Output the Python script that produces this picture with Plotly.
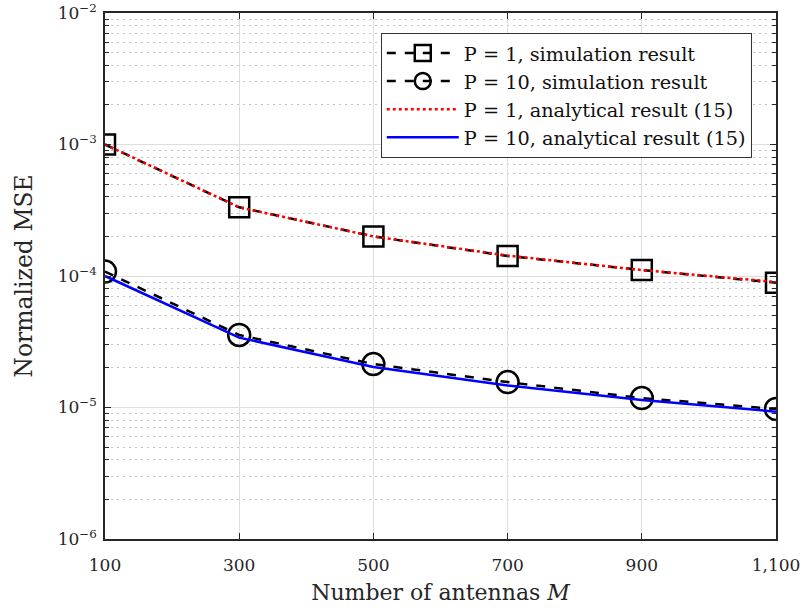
import plotly.graph_objects as go

M = [100, 300, 500, 700, 900, 1100]
sim_p1 = [1.0e-3, 3.33e-4, 2.0e-4, 1.42e-4, 1.11e-4, 8.9e-5]
sim_p10 = [1.08e-4, 3.56e-5, 2.14e-5, 1.56e-5, 1.18e-5, 9.75e-6]
ana_p1 = [1.0e-3, 3.33e-4, 2.0e-4, 1.43e-4, 1.11e-4, 9.0e-5]
ana_p10 = [1.0e-4, 3.4e-5, 2.03e-5, 1.47e-5, 1.14e-5, 9.3e-6]

names = ["P = 1, simulation result", "P = 10, simulation result",
         "P = 1, analytical result (15)", "P = 10, analytical result (15)"]

y_tickvals = [1e-6, 1e-5, 1e-4, 1e-3, 1e-2]
y_ticktext = ["10<sup>−6</sup>", "10<sup>−5</sup>", "10<sup>−4</sup>", "10<sup>−3</sup>", "10<sup>−2</sup>"]
x_tickvals = [100, 300, 500, 700, 900, 1100]
x_ticktext = ["100", "300", "500", "700", "900", "1,100"]

FONT = "DejaVu Serif"

fig = go.Figure()
fig.add_trace(go.Scatter(x=M, y=sim_p1, name=names[0], mode="lines+markers",
                         line=dict(color="black", width=2.5, dash="dash"),
                         marker=dict(symbol="square-open", size=20, color="black", line=dict(width=2.5))))
fig.add_trace(go.Scatter(x=M, y=sim_p10, name=names[1], mode="lines+markers",
                         line=dict(color="black", width=2.5, dash="dash"),
                         marker=dict(symbol="circle-open", size=22, color="black", line=dict(width=2.5))))
fig.add_trace(go.Scatter(x=M, y=ana_p1, name=names[2], mode="lines",
                         line=dict(color="red", width=2.5, dash="dot")))
fig.add_trace(go.Scatter(x=M, y=ana_p10, name=names[3], mode="lines",
                         line=dict(color="blue", width=2.5)))

fig.update_layout(
    width=804, height=612,
    margin=dict(l=105, r=28, t=13, b=73),
    paper_bgcolor="white", plot_bgcolor="white",
    font=dict(family=FONT, color="#262626", size=18),
    legend=dict(x=0.411, y=0.962, xanchor="left", yanchor="top",
                bgcolor="white", bordercolor="#333333", borderwidth=1,
                font=dict(family=FONT, size=19.3, color="#111"), itemwidth=72,
                tracegroupgap=0),
)
fig.update_xaxes(
    range=[100, 1100], tickvals=x_tickvals, ticktext=x_ticktext,
    showline=True, linecolor="#262626", linewidth=1.5, mirror="ticks",
    ticks="inside", ticklen=6, tickcolor="#262626", automargin=False,
    showgrid=True, gridcolor="#dedede", gridwidth=1, zeroline=False,
    tickfont=dict(size=17), ticklabelstandoff=10,
    title=dict(text="Number of antennas <i>M</i>", font=dict(size=22), standoff=10),
)
fig.update_yaxes(
    type="log", range=[-6, -2], tickvals=y_tickvals, ticktext=y_ticktext,
    showline=True, linecolor="#262626", linewidth=1.5, mirror="ticks",
    ticks="inside", ticklen=6, tickcolor="#262626", automargin=False,
    showgrid=True, gridcolor="#dedede", gridwidth=1, zeroline=False,
    tickfont=dict(size=17), ticklabelstandoff=3,
    minor=dict(ticks="inside", ticklen=4, tickcolor="#262626", dtick="D1",
               showgrid=True, gridcolor="#c4c4c4", griddash="2px,4px", gridwidth=1),
    title=dict(text="Normalized MSE", font=dict(size=23.5), standoff=18),
)

fig.write_html("out.html", config={"displayModeBar": False},
               post_script="document.body.style.margin='0';")
